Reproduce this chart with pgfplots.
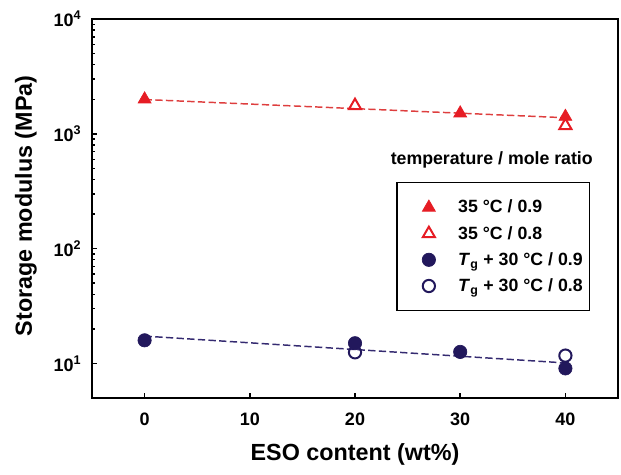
\documentclass[border=0pt]{standalone}
\usepackage{fontspec}
\setmainfont{Liberation Sans}
\usepackage{pgfplots}
\pgfplotsset{compat=1.18}
\usetikzlibrary{calc}
\definecolor{mred}{RGB}{230,28,36}
\definecolor{lred}{RGB}{222,62,62}
\definecolor{navy}{RGB}{34,24,92}
\definecolor{lnavy}{RGB}{52,42,112}
\begin{document}
\begin{tikzpicture}
\begin{axis}[
scale only axis,
width=394.5pt, height=284.25pt,
ymode=log,
xmin=-5, xmax=45,
ymin=5, ymax=10000,
axis line style={line width=1.5pt},
tick align=inside,
xtick pos=bottom, ytick pos=left,
major tick length=3.75pt, minor tick length=2.25pt,
every tick/.style={black, line width=1.1pt},
xtick={0,10,20,30,40},
xticklabels={0,10,20,30,40},
ytick={10,100,1000,10000},
yticklabels={10\textsuperscript{1},10\textsuperscript{2},10\textsuperscript{3},10\textsuperscript{4}},
tick label style={font=\bfseries\fontsize{13.5}{16}\selectfont},
xticklabel style={yshift=-8pt},
yticklabel style={xshift=-4.5pt},
xlabel={ESO content (wt\%)},
ylabel={Storage modulus (MPa)},
label style={font=\bfseries\fontsize{17.5}{20}\selectfont},
xlabel style={at={(axis description cs:0.5,-0.150)}, anchor=center},
ylabel style={at={(axis description cs:-0.1255,0.507)}, anchor=center},
legend image code/.code={%
\path[draw=none, fill=none] (0pt,-2pt) rectangle (41pt,2pt);
\draw[#1] plot coordinates {(21pt,0pt)};},
legend style={
at={(rel axis cs:0.947,0.570)}, anchor=north east,
draw=black, line width=1.1pt,
font=\bfseries\fontsize{13.3}{16}\selectfont,
inner xsep=3pt, inner ysep=11pt,
row sep=4.5pt,
},
legend cell align=left,
]
% fitted dashed lines
\addplot[forget plot, lred, line width=1.1pt, dash pattern=on 5.5pt off 2.5pt] coordinates {(0,1990) (40,1380)};
\addplot[forget plot, lnavy, line width=1.1pt, dash pattern=on 5.5pt off 2.5pt] coordinates {(0,17.3) (40,10.1)};
% data
\addplot[only marks, mark=triangle*, mark size=5.6pt, mred, mark options={fill=mred, draw=mred, line width=0.5pt}]
coordinates {(0,2000) (30,1510) (40,1410)};
\addlegendentry{35 °C / 0.9}
\addplot[only marks, mark=triangle, mark size=5.2pt, mred, mark options={fill=white, draw=mred, line width=1.5pt}]
coordinates {(20,1760) (40,1180)};
\addlegendentry{35 °C / 0.8}
\addplot[only marks, mark=*, mark size=5pt, navy, mark options={fill=navy, draw=navy, line width=0.5pt}]
coordinates {(0,15.9) (20,15.0) (30,12.6) (40,9.05)};
\addlegendentry{\textit{T}\textsubscript{g} + 30 °C / 0.9}
\addplot[only marks, mark=o, mark size=4.6pt, navy, mark options={fill=white, draw=navy, line width=1.5pt}]
coordinates {(20,12.5) (40,11.7)};
\addlegendentry{\textit{T}\textsubscript{g} + 30 °C / 0.8}
\node[font=\bfseries\fontsize{13.3}{16}\selectfont] at (rel axis cs:0.760,0.628) {temperature / mole ratio};
\coordinate (bl) at (rel axis cs:0,0);
\coordinate (tr) at (rel axis cs:1,1);
\end{axis}
\pgfresetboundingbox
\path ($(bl)+(-69pt,-57.75pt)$) rectangle ($(tr)+(2.25pt,14.25pt)$);
\end{tikzpicture}
\end{document}
